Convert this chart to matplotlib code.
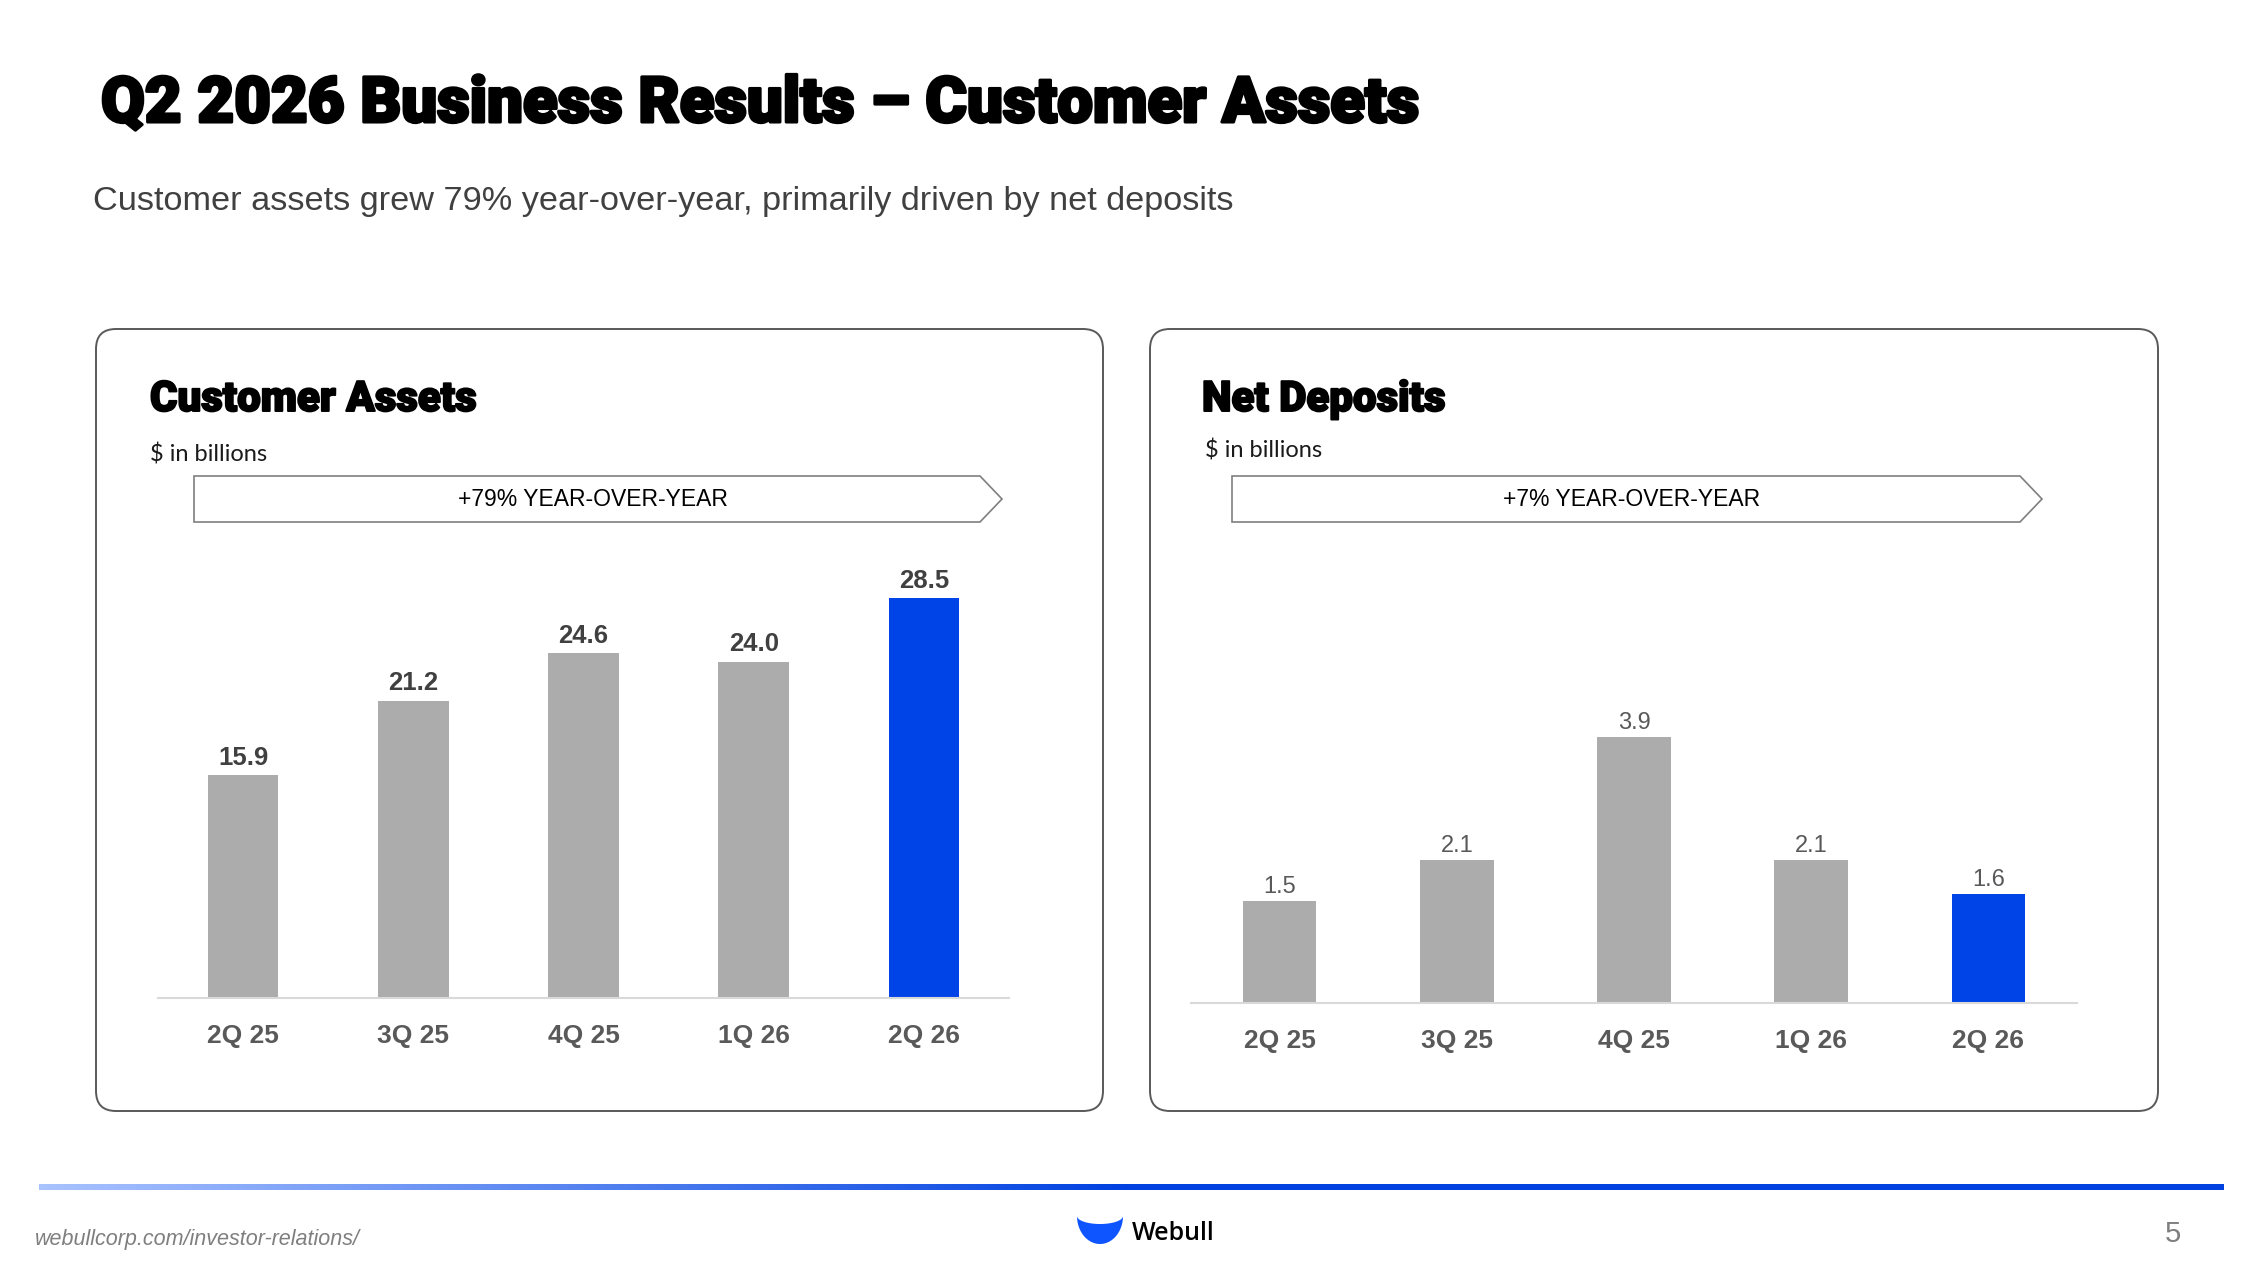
import numpy as np
import matplotlib.pyplot as plt
import matplotlib.patheffects as pe
from matplotlib.patches import FancyBboxPatch, Polygon
from matplotlib.colors import LinearSegmentedColormap

# values
quarters = ["2Q 25", "3Q 25", "4Q 25", "1Q 26", "2Q 26"]
customer_assets = [15.9, 21.2, 24.6, 24.0, 28.5]
net_deposits = [1.5, 2.1, 3.9, 2.1, 1.6]

title = "Q2 2026 Business Results \u2013 Customer Assets"
subtitle = "Customer assets grew 79% year-over-year, primarily driven by net deposits"
panel_titles = ["Customer Assets", "Net Deposits"]
units = "$ in billions"
yoy_labels = ["+79% YEAR-OVER-YEAR", "+7% YEAR-OVER-YEAR"]
footer_url = "webullcorp.com/investor-relations/"
page_no = "5"

W, H = 2267, 1275
GRAY = "#acacac"
BLUE = "#0043e6"
HEAVY = ["Roboto", "Inter", "DejaVu Sans"]
ARIAL = ["Liberation Sans", "DejaVu Sans"]
# the slide headings use a black-weight face; thicken the bold one a little
fatten = [pe.withStroke(linewidth=2.2, foreground="black")]

fig = plt.figure(figsize=(W / 100, H / 100), dpi=100)
fig.patch.set_facecolor("white")

# full-figure layer in pixel units (y down) for the slide furniture
bg = fig.add_axes([0, 0, 1, 1])
bg.axis("off")


def fit_width(txt, target_px):
	r = fig.canvas.get_renderer()
	w = txt.get_window_extent(r).width
	txt.set_fontsize(txt.get_fontsize() * target_px / w)
	return txt.get_fontsize()


# footer rule, light blue fading into solid blue
ramp = np.clip(np.linspace(0, 2, 600), 0, 1)[None, :]
rule_cmap = LinearSegmentedColormap.from_list("rule", ["#a9c3ff", "#0041e0"])
bg.imshow(ramp, cmap=rule_cmap, extent=[39, 2224, 1190, 1184], aspect="auto",
          interpolation="bilinear")
bg.set_xlim(0, W)
bg.set_ylim(H, 0)

t = bg.text(101, 122, title, fontsize=44, fontweight="black", family=HEAVY,
            color="black", va="baseline", path_effects=fatten)
fit_width(t, 1318)
t = bg.text(93, 210, subtitle, fontsize=22, family=ARIAL, color="#404040", va="baseline")
fit_width(t, 1136)

# panels
panel_boxes = [(96, 329, 1103, 1111), (1150, 329, 2158, 1111)]
title_x = [150, 1202]
units_pos = [(150, 454), (1205, 450)]
banners = [(194, 980, 1002, 593), (1232, 2020, 2042, 1632)]

head_size = None
for i, (x0, y0, x1, y1) in enumerate(panel_boxes):
	bg.add_patch(FancyBboxPatch((x0, y0), x1 - x0, y1 - y0,
	                            boxstyle="round,pad=0,rounding_size=20",
	                            fc="white", ec="#595959", lw=1.4))
	ht = bg.text(title_x[i], 411, panel_titles[i], fontsize=26, fontweight="black",
	             family=HEAVY, color="black", va="baseline",
	             path_effects=[pe.withStroke(linewidth=1.4, foreground="black")])
	if head_size is None:
		head_size = fit_width(ht, 327)
	else:
		ht.set_fontsize(head_size)
	bg.text(units_pos[i][0], units_pos[i][1], units, fontsize=17,
	        family=["Lato", "DejaVu Sans"], color="#1a1a1a", va="center")

	bx0, bx1, tip, tx = banners[i]
	pts = [(bx0, 476), (bx1, 476), (tip, 499), (bx1, 522), (bx0, 522)]
	bg.add_patch(Polygon(pts, closed=True, fc="white", ec="#7f7f7f", lw=1.2))
	bg.text(tx, 500, yoy_labels[i], fontsize=16.5, family=ARIAL, color="black",
	        ha="center", va="center")


def draw_bars(x_left, x_right, base_y, px_per_unit, values, label_style, label_pad):
	top_y = 540
	ax = fig.add_axes([x_left / W, (H - base_y) / H, (x_right - x_left) / W,
	                   (base_y - top_y) / H])
	ax.patch.set_alpha(0)
	colors = [GRAY] * (len(values) - 1) + [BLUE]
	bars = ax.bar(range(len(values)), values, width=0.415, color=colors)
	ax.set_xlim(-0.5, len(values) - 0.5)
	ax.set_ylim(0, (base_y - top_y) / px_per_unit)
	ax.bar_label(bars, labels=[f"{v:.1f}" for v in values], padding=label_pad,
	             family=ARIAL, **label_style)
	ax.set_xticks(range(len(quarters)), quarters, fontsize=19, fontweight="bold",
	              color="#595959", family=ARIAL)
	ax.tick_params(axis="x", length=0, pad=19)
	ax.set_yticks([])
	for s in ("left", "right", "top"):
		ax.spines[s].set_visible(False)
	ax.spines["bottom"].set_color("#d9d9d9")
	ax.spines["bottom"].set_linewidth(1.5)
	return ax


draw_bars(158, 1009, 998, 14.02, customer_assets,
          dict(fontsize=18.5, fontweight="bold", color="#404040"), 4)
draw_bars(1191, 2077, 1003, 68.3, net_deposits,
          dict(fontsize=17, color="#595959"), 2)

# footer
bg.text(35, 1239, footer_url, fontsize=15.5, style="italic", family=ARIAL,
        color="#7f7f7f", va="center")
bg.text(2165, 1234, page_no, fontsize=21, family=ARIAL, color="#7f7f7f", va="center")

# webull mark: crescent bowl + wordmark
a = np.linspace(0, np.pi, 80)
cx, cy, rx = 1100, 1216, 23
outer = np.column_stack([cx - rx * np.cos(a), cy + 28 * np.sin(a)])
inner = np.column_stack([cx + rx * np.cos(a), cy + 8 * np.sin(a)])
bg.add_patch(Polygon(np.vstack([outer, inner]), closed=True, fc="#0f55ff", ec="none"))
bg.text(1132, 1233, "Webull", fontsize=18, fontweight="semibold",
        family=["Open Sans", "DejaVu Sans"], color="black", va="center")

fig.savefig("out.png", dpi=100, facecolor="white")
